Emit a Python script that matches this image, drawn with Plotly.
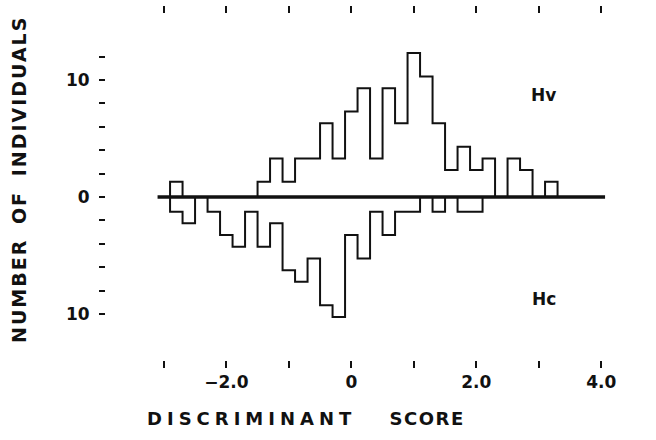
import plotly.graph_objects as go

# Bin centres of the discriminant-score histogram (bin width 0.2)
bin_centers = [-2.8, -2.6, -2.4, -2.2, -2.0, -1.8, -1.6, -1.4, -1.2, -1.0,
               -0.8, -0.6, -0.4, -0.2, 0.0, 0.2, 0.4, 0.6, 0.8, 1.0,
               1.2, 1.4, 1.6, 1.8, 2.0, 2.2, 2.4, 2.6, 2.8, 3.0, 3.2]
bin_width = 0.2

# Hv counts (drawn above the baseline)
hv_counts = [1, 0, 0, 0, 0, 0, 0, 1, 3, 1,
             3, 3, 6, 3, 7, 9, 3, 9, 6, 12,
             10, 6, 2, 4, 2, 3, 0, 3, 2, 0, 1]
# Hc counts (drawn below the baseline)
hc_counts = [1, 2, 0, 1, 3, 4, 1, 4, 2, 6,
             7, 5, 9, 10, 3, 5, 1, 3, 1, 1,
             0, 1, 0, 1, 1, 0, 0, 0, 0, 0, 0]

x_tick_vals = [-3, -2, -1, 0, 1, 2, 3, 4]
x_tick_text = ["", "\u22122.0", "", "0", "", "2.0", "", "4.0"]
y_tick_vals = [-10, -8, -6, -4, -2, 0, 2, 4, 6, 8, 10, 12]
y_tick_text = ["10", "", "", "", "", "0", "", "", "", "", "10", ""]

INK = "#111111"
FONT = "DejaVu Sans"
HV_BASE = 0.3    # Hv outline sits just above the thick baseline
HC_BASE = -0.25  # Hc outline sits just below it
X_RANGE = [-3.925, 4.715]
Y_RANGE = [-13.93, 15.64]
RIGHT_TICK_X = 4.77  # right-hand tick marks sit just beyond the plot edge


def step_outline(centers, counts, base, sign):
    edges = [c - bin_width / 2 for c in centers] + [centers[-1] + bin_width / 2]
    xs = [edges[0]] + edges
    ys = [0] + [(base + sign * v) if v else 0 for v in counts] + [0]
    return xs, ys


hv_x, hv_y = step_outline(bin_centers, hv_counts, HV_BASE, 1)
hc_x, hc_y = step_outline(bin_centers, hc_counts, HC_BASE, -1)

fig = go.Figure()
fig.add_trace(go.Scatter(x=hv_x, y=hv_y, mode="lines", line_shape="hv",
                         line=dict(color=INK, width=2), name="Hv",
                         showlegend=False, hoverinfo="skip"))
fig.add_trace(go.Scatter(x=hc_x, y=hc_y, mode="lines", line_shape="hv",
                         line=dict(color=INK, width=2), name="Hc",
                         showlegend=False, hoverinfo="skip"))
# right-hand tick marks
fig.add_trace(go.Scatter(x=[RIGHT_TICK_X] * len(y_tick_vals), y=y_tick_vals,
                         mode="markers", cliponaxis=False,
                         marker=dict(symbol="line-ew", size=6, color=INK,
                                     line=dict(color=INK, width=2)),
                         showlegend=False, hoverinfo="skip"))

# thick baseline
fig.add_shape(type="line", xref="x", yref="y", x0=-3.1, x1=4.06, y0=0, y1=0,
              line=dict(color=INK, width=3.5))

fig.add_annotation(x=3.08, y=8.7, xref="x", yref="y", text="<b>Hv</b>",
                   showarrow=False, font=dict(family=FONT, size=17, color=INK))
fig.add_annotation(x=3.08, y=-8.7, xref="x", yref="y", text="<b>Hc</b>",
                   showarrow=False, font=dict(family=FONT, size=17, color=INK))

# axis titles
fig.add_annotation(
    xref="paper", yref="paper", x=(306 - 106) / 540, y=-(418 - 360) / 346,
    text='<b><span style="letter-spacing:5px;word-spacing:22px">DISCRIMINANT </span>'
         '<span style="letter-spacing:1.5px">SCORE</span></b>',
    showarrow=False, font=dict(family=FONT, size=18, color=INK), xanchor="center", yanchor="middle")
fig.add_annotation(
    xref="paper", yref="paper", x=-(106 - 19) / 540, y=(360 - 180) / 346,
    text='<span style="letter-spacing:2px;word-spacing:6px"><b>NUMBER OF INDIVIDUALS</b></span>',
    textangle=-90,
    showarrow=False, font=dict(family=FONT, size=19, color=INK), xanchor="center", yanchor="middle")

fig.update_layout(
    width=656, height=440,
    margin=dict(l=106, r=10, t=14, b=80, autoexpand=False),
    paper_bgcolor="white", plot_bgcolor="white",
    xaxis=dict(range=X_RANGE, tickvals=x_tick_vals, ticktext=x_tick_text,
               ticks="outside", ticklen=7, tickwidth=1.5, tickcolor=INK,
               mirror="ticks", showline=False, showgrid=False, zeroline=False,
               automargin=False,
               tickfont=dict(family=FONT, size=17, color=INK, weight="bold")),
    yaxis=dict(range=Y_RANGE, tickvals=y_tick_vals, ticktext=y_tick_text,
               ticks="outside", ticklen=6, tickwidth=2, tickcolor=INK,
               showline=False, showgrid=False, zeroline=False,
               ticklabelstandoff=6, automargin=False,
               tickfont=dict(family=FONT, size=17, color=INK, weight="bold")),
)

fig.write_html("out.html", config={"displayModeBar": False},
               post_script="document.body.style.margin='0px';")
